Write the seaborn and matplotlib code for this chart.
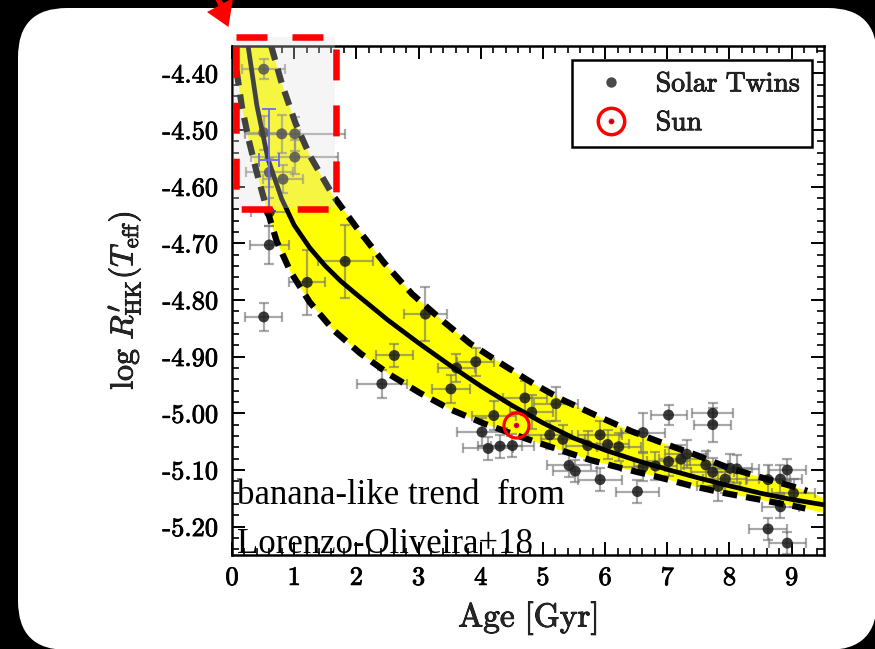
import numpy as np
import matplotlib
matplotlib.use("Agg")
import matplotlib.pyplot as plt
import matplotlib.patheffects as pe
import seaborn as sns
from matplotlib.patches import FancyBboxPatch, Rectangle, Polygon
from matplotlib.lines import Line2D
from matplotlib.legend_handler import HandlerTuple

# ---- solar twins: age [Gyr], log R'HK and their uncertainties ----
twin_age = [0.51, 0.51, 0.80, 1.01, 1.01, 0.60, 0.82, 0.60, 0.60, 1.82,
            1.21, 0.51, 3.11, 2.61, 2.41, 3.61, 3.92, 3.52, 4.21, 4.02,
            4.12, 4.31, 4.51, 4.71, 4.82, 5.21, 5.11, 5.32, 5.42, 5.52,
            5.72, 5.92, 6.04, 6.22, 5.92, 6.52, 6.61, 6.61, 6.81, 7.02,
            7.02, 7.22, 7.31, 7.73, 7.73, 7.62, 7.73, 7.93, 7.82, 8.01,
            8.12, 8.62, 8.82, 8.93, 9.03, 8.82, 8.62, 8.93]
twin_logrhk = [-4.393, -4.505, -4.507, -4.507, -4.548, -4.575, -4.587, -4.645, -4.703, -4.732,
               -4.769, -4.830, -4.825, -4.898, -4.948, -4.920, -4.909, -4.957, -5.004, -5.033,
               -5.062, -5.058, -5.057, -4.973, -4.998, -4.983, -5.038, -5.046, -5.092, -5.102,
               -5.057, -5.038, -5.055, -5.059, -5.117, -5.138, -5.034, -5.095, -5.093, -5.003,
               -5.085, -5.081, -5.072, -5.000, -5.020, -5.091, -5.104, -5.116, -5.129, -5.097,
               -5.098, -5.117, -5.116, -5.100, -5.141, -5.165, -5.204, -5.229]
twin_age_err = [0.35, 0.30, 0.30, 0.80, 0.70, 0.38, 0.32, 0.30, 0.31, 0.44,
                0.29, 0.30, 0.35, 0.30, 0.40, 0.30, 0.30, 0.30, 0.35, 0.40,
                0.40, 0.35, 0.35, 0.35, 0.35, 0.35, 0.35, 0.35, 0.35, 0.35,
                0.35, 0.35, 0.35, 0.35, 0.35, 0.35, 0.35, 0.35, 0.35, 0.29,
                0.35, 0.35, 0.35, 0.33, 0.30, 0.35, 0.35, 0.35, 0.35, 0.35,
                0.35, 0.35, 0.35, 0.30, 0.35, 0.30, 0.30, 0.30]
twin_logrhk_err = [0.018, 0.030, 0.034, 0.030, 0.030, 0.025, 0.025, 0.025, 0.034, 0.065,
                   0.057, 0.025, 0.047, 0.020, 0.025, 0.025, 0.025, 0.025, 0.025, 0.025,
                   0.020, 0.020, 0.020, 0.030, 0.030, 0.030, 0.025, 0.025, 0.020, 0.020,
                   0.025, 0.025, 0.025, 0.025, 0.020, 0.020, 0.035, 0.025, 0.025, 0.018,
                   0.025, 0.025, 0.025, 0.018, 0.030, 0.025, 0.025, 0.025, 0.025, 0.025,
                   0.025, 0.025, 0.025, 0.020, 0.025, 0.020, 0.020, 0.020]

# ---- the Sun ----
sun_age = 4.57
sun_logrhk = -5.02

# ---- young star with its own (blue) uncertainty ----
young_age, young_logrhk = 0.60, -4.553
young_age_err, young_logrhk_err = 0.16, 0.09

# ---- Lorenzo-Oliveira+18 age-activity relation and its envelope ----
fit_age = [0.26, 0.40, 0.58, 0.80, 1.00, 1.25, 1.50, 1.75, 2.00, 2.50, 3.00, 3.50,
           4.00, 4.50, 5.00, 5.50, 6.00, 6.50, 7.00, 7.50, 8.00, 8.50, 9.00, 9.55]
fit_logrhk = [-4.353, -4.457, -4.552, -4.622, -4.668, -4.708, -4.740, -4.767, -4.790, -4.835,
              -4.876, -4.915, -4.952, -4.986, -5.017, -5.044, -5.065, -5.083, -5.099, -5.114,
              -5.128, -5.141, -5.152, -5.162]

upper_age = [0.63, 0.80, 1.02, 1.26, 1.62, 2.00, 2.45, 2.90, 3.40, 3.83, 4.31, 4.85,
             5.33, 5.88, 6.43, 6.94, 7.45, 7.98, 8.54, 9.11, 9.25]
upper_logrhk = [-4.352, -4.418, -4.488, -4.547, -4.615, -4.672, -4.735, -4.790, -4.838, -4.877,
                -4.911, -4.948, -4.977, -5.005, -5.032, -5.053, -5.073, -5.096, -5.114, -5.132,
                -5.137]

lower_age = [0.02, 0.08, 0.16, 0.27, 0.40, 0.54, 0.72, 0.94, 1.25, 1.63, 2.06, 2.54,
             3.02, 3.51, 4.05, 4.63, 5.20, 5.75, 6.27, 6.80, 7.39, 7.93, 8.52, 9.05, 9.22]
lower_logrhk = [-4.355, -4.400, -4.460, -4.518, -4.576, -4.632, -4.697, -4.750, -4.804, -4.853,
                -4.894, -4.932, -4.964, -4.993, -5.018, -5.041, -5.062, -5.082, -5.097, -5.111,
                -5.128, -5.141, -5.153, -5.164, -5.168]

# the shaded band carries on to the right edge of the axes
band_end_age = 9.52
band_end_upper = -5.150
band_end_lower = -5.176

xticks = [0, 1, 2, 3, 4, 5, 6, 7, 8, 9]
xtick_labels = ["0", "1", "2", "3", "4", "5", "6", "7", "8", "9"]
yticks = [-5.20, -5.10, -5.00, -4.90, -4.80, -4.70, -4.60, -4.50, -4.40]
ytick_labels = ["-5.20", "-5.10", "-5.00", "-4.90", "-4.80", "-4.70", "-4.60", "-4.50", "-4.40"]

# ---------------------------------------------------------------------------
sns.set_theme(style="ticks")
plt.rcParams["mathtext.fontset"] = "cm"
plt.rcParams["axes.unicode_minus"] = False
plt.rcParams["lines.scale_dashes"] = False
plt.rcParams["font.family"] = ["cmr10", "DejaVu Serif"]

# a hairline stroke gives the Computer Modern labels a printed weight
ink = [pe.withStroke(linewidth=0.6, foreground="black")]

W, H = 875, 649
fig = plt.figure(figsize=(W / 100, H / 100), dpi=100, facecolor="black")

# rounded white slide panel
bg = fig.add_axes([0, 0, 1, 1], zorder=-2)
bg.set_xlim(0, W)
bg.set_ylim(H, 0)
bg.axis("off")
bg.patch.set_visible(False)
bg.add_patch(FancyBboxPatch((18, 8), 859, 642,
                            boxstyle="round,pad=0,rounding_size=49",
                            facecolor="white", edgecolor="none"))

ax = fig.add_axes([232 / W, 1 - 555 / H, 592 / W, 509 / H], zorder=0)
ax.set_facecolor("white")

# envelope band
band_x = np.r_[upper_age, band_end_age, band_end_age, lower_age[::-1]]
band_y = np.r_[upper_logrhk, band_end_upper, band_end_lower, lower_logrhk[::-1]]
ax.fill(band_x, band_y, color="#ffff00", lw=0, zorder=1)

# error bars of the twins
ax.errorbar(twin_age, twin_logrhk, xerr=twin_age_err, yerr=twin_logrhk_err,
            fmt="none", ecolor="#707070", alpha=0.6, elinewidth=1.6,
            capsize=3.8, capthick=1.6, zorder=2)

sns.scatterplot(x=twin_age, y=twin_logrhk, ax=ax, color="#1a1a1a", alpha=0.85,
                s=62, edgecolor="none", zorder=3, legend=False)

# relation and envelope curves
sns.lineplot(x=fit_age, y=fit_logrhk, ax=ax, color="black", lw=3.4,
             sort=False, estimator=None, zorder=4)
sns.lineplot(x=upper_age, y=upper_logrhk, ax=ax, color="black", lw=4.5,
             linestyle=(0, (10.5, 6.5)), sort=False, estimator=None, zorder=4)
sns.lineplot(x=lower_age, y=lower_logrhk, ax=ax, color="black", lw=4.5,
             linestyle=(0, (10.5, 6.5)), sort=False, estimator=None, zorder=4)

# blue error cross
ax.errorbar([young_age], [young_logrhk], xerr=[young_age_err], yerr=[young_logrhk_err],
            fmt="none", ecolor="#3a3aff", elinewidth=1.3, capsize=5, capthick=1.3, zorder=5)

# the Sun
ax.plot([sun_age], [sun_logrhk], "o", ms=18, mfc="none", mec="#ff0000", mew=2.3, zorder=6)
ax.plot([sun_age], [sun_logrhk], "o", ms=4.0, mfc="#ff0000", mec="none", zorder=7)
ax.plot([sun_age], [sun_logrhk], "o", ms=1.4, mfc="#0000ff", mec="none", zorder=8)

ax.set_xlim(0, 9.52)
ax.set_ylim(-5.25, -4.352)
ax.set_xticks(xticks)
ax.set_xticklabels(xtick_labels, fontfamily="cmr10", fontsize=19)
ax.set_yticks(yticks)
ax.set_yticklabels(ytick_labels, fontfamily="cmr10", fontsize=19)
ax.set_xticks(np.arange(0, 9.6, 0.2), minor=True)
ax.set_yticks(np.arange(-5.24, -4.35, 0.02), minor=True)
ax.tick_params(which="both", direction="in", top=True, right=True, colors="black")
ax.tick_params(which="major", length=9.4, width=1.4)
ax.tick_params(which="minor", length=5.0, width=1.2)
ax.tick_params(axis="x", which="major", pad=8)
ax.tick_params(axis="y", which="major", pad=10)
for lab in ax.get_xticklabels() + ax.get_yticklabels():
    lab.set_path_effects(ink)
for sp in ax.spines.values():
    sp.set_linewidth(1.8)
    sp.set_color("black")
    sp.set_visible(True)

ax.set_xlabel(r"$\mathrm{Age\ [Gyr]}$", fontsize=24, labelpad=7, path_effects=ink)
ax.set_ylabel(r"$\log\,R^{\prime}_{\rm HK}(T_{\rm eff})$", fontsize=23, labelpad=14,
              path_effects=ink)

twin_handle = Line2D([], [], ls="none", marker="o", ms=7.5, mfc="#4a4a4a", mec="none")
sun_ring = Line2D([], [], ls="none", marker="o", ms=19, mfc="none", mec="#ff0000", mew=2.5)
sun_dot = Line2D([], [], ls="none", marker="o", ms=4.2, mfc="#ff0000", mec="none")
sun_core = Line2D([], [], ls="none", marker="o", ms=1.5, mfc="#0000ff", mec="none")
leg = ax.legend([twin_handle, (sun_ring, sun_dot, sun_core)],
                [r"$\mathrm{Solar\ Twins}$", r"$\mathrm{Sun}$"],
                handler_map={tuple: HandlerTuple(ndivide=1)},
                loc="upper right", bbox_to_anchor=(0.9797, 0.9725), borderaxespad=0,
                fontsize=20, frameon=True, fancybox=False, framealpha=1,
                edgecolor="black", borderpad=0.4, labelspacing=0.45,
                handlelength=2.0, handletextpad=0.6)
leg.get_frame().set_linewidth(1.8)
leg.set_zorder(10)
for t in leg.get_texts():
    t.set_path_effects(ink)

# overlay in pixel coordinates: highlight box, arrow, note
ov = fig.add_axes([0, 0, 1, 1], zorder=5)
ov.set_xlim(0, W)
ov.set_ylim(H, 0)
ov.axis("off")
ov.patch.set_visible(False)
ov.add_patch(Rectangle((233, 37), 102, 171, facecolor="#dedede", alpha=0.3,
                       edgecolor="none"))
ov.add_patch(Rectangle((235.5, 36.5), 100, 172.5, fill=False, edgecolor="#ff0000",
                       lw=4.7, linestyle=(0, (22.3, 18.0)), joinstyle="miter"))
ov.plot([221, 207], [5, -25], color="#ff0000", lw=4, solid_capstyle="butt")
ov.add_patch(Polygon([(207, 12), (233, -2), (228.5, 27)], closed=True,
                     facecolor="#ff0000", edgecolor="none"))
ov.text(237, 504, "banana-like trend  from", fontsize=25,
        family=["Liberation Serif", "DejaVu Serif"], va="baseline", ha="left", color="black")
ov.text(237, 553, "Lorenzo-Oliveira+18", fontsize=25,
        family=["Liberation Serif", "DejaVu Serif"], va="baseline", ha="left", color="black")

fig.savefig("out.png", dpi=100, facecolor="black")
